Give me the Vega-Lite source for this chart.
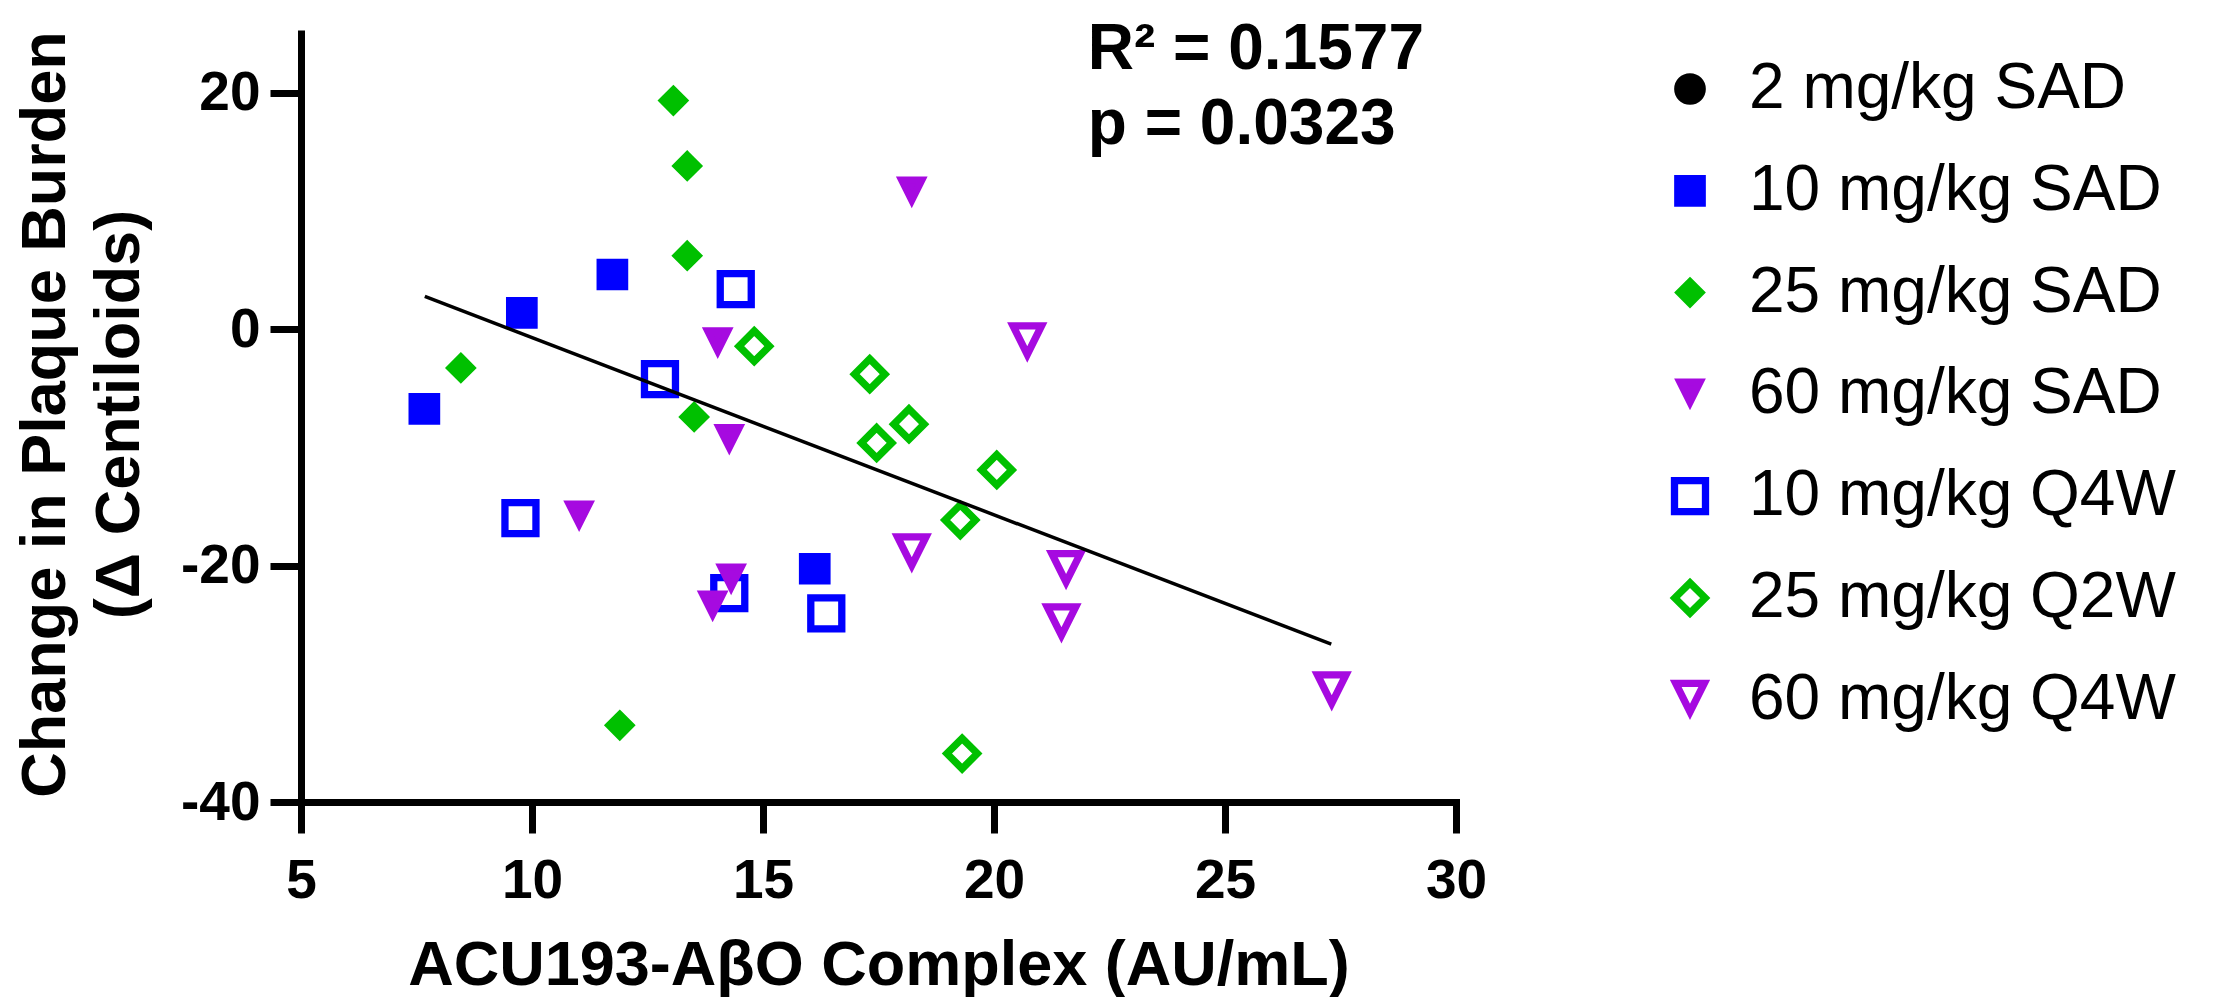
{
  "$schema": "https://vega.github.io/schema/vega-lite/v6.json",
  "autosize": {"type": "none"},
  "padding": {"left": 301, "top": 30, "right": 765, "bottom": 195},
  "width": 1155,
  "height": 772,
  "background": "white",
  "config": {
    "view": {"stroke": null},
    "font": "Liberation Sans",
    "legend": {"symbolSize": 4, "symbolStrokeWidth": 7.3}
  },
  "layer": [
    {
      "data": {
        "values": [
          {"group": "10 mg/kg Q4W", "complex": 14.41, "change": 3.39},
          {"group": "10 mg/kg Q4W", "complex": 12.77, "change": -4.23},
          {"group": "10 mg/kg Q4W", "complex": 9.75, "change": -15.98},
          {"group": "10 mg/kg Q4W", "complex": 14.27, "change": -22.33},
          {"group": "10 mg/kg Q4W", "complex": 16.37, "change": -24.05},
          {"group": "25 mg/kg Q2W", "complex": 14.81, "change": -1.44},
          {"group": "25 mg/kg Q2W", "complex": 17.31, "change": -3.81},
          {"group": "25 mg/kg Q2W", "complex": 18.16, "change": -8.04},
          {"group": "25 mg/kg Q2W", "complex": 17.46, "change": -9.63},
          {"group": "25 mg/kg Q2W", "complex": 20.06, "change": -11.91},
          {"group": "25 mg/kg Q2W", "complex": 19.27, "change": -16.15},
          {"group": "25 mg/kg Q2W", "complex": 19.31, "change": -35.9},
          {"group": "60 mg/kg Q4W", "complex": 20.72, "change": -1.13},
          {"group": "60 mg/kg Q4W", "complex": 18.22, "change": -18.97},
          {"group": "60 mg/kg Q4W", "complex": 21.56, "change": -20.38},
          {"group": "60 mg/kg Q4W", "complex": 21.46, "change": -24.89},
          {"group": "60 mg/kg Q4W", "complex": 27.31, "change": -30.65},
          {"group": "10 mg/kg SAD", "complex": 11.74, "change": 4.62},
          {"group": "10 mg/kg SAD", "complex": 9.78, "change": 1.38},
          {"group": "10 mg/kg SAD", "complex": 7.67, "change": -6.75},
          {"group": "10 mg/kg SAD", "complex": 16.12, "change": -20.27},
          {"group": "25 mg/kg SAD", "complex": 13.06, "change": 19.33},
          {"group": "25 mg/kg SAD", "complex": 13.36, "change": 13.8},
          {"group": "25 mg/kg SAD", "complex": 13.36, "change": 6.21},
          {"group": "25 mg/kg SAD", "complex": 8.46, "change": -3.28},
          {"group": "25 mg/kg SAD", "complex": 13.51, "change": -7.43},
          {"group": "25 mg/kg SAD", "complex": 11.9, "change": -33.51},
          {"group": "60 mg/kg SAD", "complex": 18.22, "change": 11.57},
          {"group": "60 mg/kg SAD", "complex": 14.02, "change": -1.18},
          {"group": "60 mg/kg SAD", "complex": 14.27, "change": -9.36},
          {"group": "60 mg/kg SAD", "complex": 11.02, "change": -15.83},
          {"group": "60 mg/kg SAD", "complex": 14.31, "change": -21.17},
          {"group": "60 mg/kg SAD", "complex": 13.91, "change": -23.45}
        ]
      },
      "mark": {"type": "point", "filled": false, "size": 4, "strokeWidth": 7.3, "strokeJoin": "miter", "opacity": 1},
      "encoding": {
        "x": {
          "field": "complex", "type": "quantitative",
          "scale": {"domain": [5, 30], "nice": false, "zero": false},
          "axis": {
            "values": [5, 10, 15, 20, 25, 30],
            "title": "ACU193-AβO Complex (AU/mL)",
            "grid": false,
            "domainColor": "black", "domainWidth": 7, "domainCap": "square",
            "tickColor": "black", "tickWidth": 7, "tickSize": 31,
            "labelFont": "Liberation Sans", "labelFontWeight": "bold", "labelFontSize": 55,
            "labelColor": "black", "labelPadding": 21, "labelFlush": false, "labelOverlap": false,
            "titleFont": "Liberation Sans", "titleFontWeight": "bold", "titleFontSize": 63,
            "titleColor": "black", "titleBaseline": "alphabetic", "titleY": 182
          }
        },
        "y": {
          "field": "change", "type": "quantitative",
          "scale": {"domain": [-40, 25.3], "nice": false, "zero": false},
          "axis": {
            "values": [-40, -20, 0, 20],
            "labelExpr": "replace(datum.label, '−', '-')",
            "title": ["Change in Plaque Burden", "(Δ Centiloids)"],
            "grid": false,
            "domainColor": "black", "domainWidth": 7,
            "tickColor": "black", "tickWidth": 7, "tickSize": 31,
            "labelFont": "Liberation Sans", "labelFontWeight": "bold", "labelFontSize": 55,
            "labelColor": "black", "labelPadding": 10, "labelOverlap": false, "labelFlush": false,
            "titleFont": "Liberation Sans", "titleFontWeight": "bold", "titleFontSize": 63,
            "titleColor": "black", "titleBaseline": "alphabetic", "titleAngle": -90,
            "titleAlign": "center", "titleLineHeight": 74, "titleX": -237, "titleY": 384
          }
        },
        "shape": {
          "field": "group", "type": "nominal",
          "scale": {
            "domain": ["2 mg/kg SAD", "10 mg/kg SAD", "25 mg/kg SAD", "60 mg/kg SAD", "10 mg/kg Q4W", "25 mg/kg Q2W", "60 mg/kg Q4W"],
            "range": [
              "M-12.2,0A12.2,12.2,0,1,1,12.2,0A12.2,12.2,0,1,1,-12.2,0Z",
              "M-12.2,-12.2L12.2,-12.2L12.2,12.2L-12.2,12.2Z",
              "M0,-10.7L10.7,0L0,10.7L-10.7,0Z",
              "M-9.95,-12.2L9.95,-12.2L0,7.69Z",
              "M-15.5,-15.5L15.5,-15.5L15.5,15.5L-15.5,15.5Z",
              "M0,-15.2L15.2,0L0,15.2L-15.2,0Z",
              "M-14.25,-16.5L14.25,-16.5L0,12Z"
            ]
          },
          "legend": {
            "title": null,
            "orient": "none",
            "legendX": 1357,
            "legendY": 27,
            "padding": 0,
            "symbolOffset": 0,
            "labelOffset": 27,
            "rowPadding": 37.8,
            "labelFont": "Liberation Sans",
            "labelFontSize": 64,
            "labelFontWeight": "normal",
            "labelColor": "black",
            "labelLimit": 0,
            "symbolSize": 4,
            "symbolStrokeWidth": 7.3,
            "encode": {"labels": {"update": {"dy": {"value": 5}}}}
          }
        },
        "fill": {
          "field": "group", "type": "nominal",
          "scale": {
            "domain": ["2 mg/kg SAD", "10 mg/kg SAD", "25 mg/kg SAD", "60 mg/kg SAD", "10 mg/kg Q4W", "25 mg/kg Q2W", "60 mg/kg Q4W"],
            "range": ["#000000", "#0000FF", "#00C000", "#A60AE0", "transparent", "transparent", "transparent"]
          }
        },
        "stroke": {
          "field": "group", "type": "nominal",
          "scale": {
            "domain": ["2 mg/kg SAD", "10 mg/kg SAD", "25 mg/kg SAD", "60 mg/kg SAD", "10 mg/kg Q4W", "25 mg/kg Q2W", "60 mg/kg Q4W"],
            "range": ["#000000", "#0000FF", "#00C000", "#A60AE0", "#0000FF", "#00C000", "#A60AE0"]
          }
        }
      }
    },
    {
      "mark": {"type": "rule", "color": "black", "strokeWidth": 7, "strokeCap": "round", "strokeDash": [0, 23.13]},
      "encoding": {
        "x": {"datum": 5, "type": "quantitative"},
        "x2": {"datum": 30},
        "y": {"datum": 0, "type": "quantitative"}
      }
    },
    {
      "data": {
        "values": [
          {"complex": 7.68, "change": 2.76},
          {"complex": 27.3, "change": -26.65}
        ]
      },
      "mark": {"type": "line", "color": "black", "strokeWidth": 3.5},
      "encoding": {
        "x": {"field": "complex", "type": "quantitative"},
        "y": {"field": "change", "type": "quantitative"}
      }
    },
    {
      "data": {
        "values": [
          {"complex": 22.03, "change": 21.96, "label": "R² = 0.1577"},
          {"complex": 22.03, "change": 15.69, "label": "p = 0.0323"}
        ]
      },
      "mark": {"type": "text", "align": "left", "baseline": "alphabetic", "font": "Liberation Sans", "fontWeight": "bold", "fontSize": 64, "color": "black"},
      "encoding": {
        "x": {"field": "complex", "type": "quantitative"},
        "y": {"field": "change", "type": "quantitative"},
        "text": {"field": "label", "type": "nominal"}
      }
    }
  ]
}
